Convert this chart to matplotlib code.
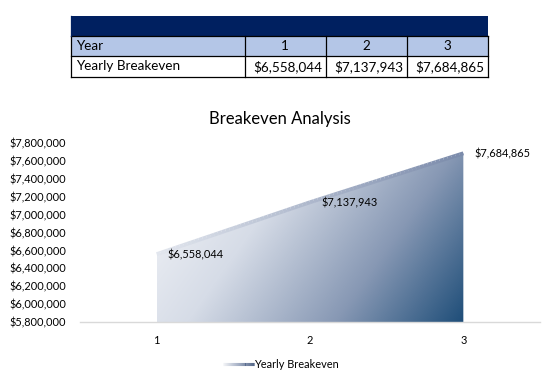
import numpy as np
import matplotlib
matplotlib.use("Agg")
import matplotlib.pyplot as plt
from matplotlib.patches import Rectangle, Polygon
from matplotlib.colors import LinearSegmentedColormap
from matplotlib.collections import LineCollection
from matplotlib.ticker import FuncFormatter
from matplotlib.lines import Line2D
from matplotlib.legend_handler import HandlerBase

plt.rcParams['font.family'] = ['Lato', 'DejaVu Sans']

# ---- data ----
years = [1, 2, 3]
breakeven = [6558044, 7137943, 7684865]
title = "Breakeven Analysis"
series_name = "Yearly Breakeven"
row_header = "Year"
y_min, y_max, y_step = 5800000, 7800000, 200000

W, H = 548, 380
fig = plt.figure(figsize=(W / 100, H / 100), dpi=100)

def fx(px):
    return px / W

def fy(py):
    return 1 - py / H

def money(v):
    return "${:,.0f}".format(v)

# ---- table drawn in figure pixel coords ----
tx0, tx1 = 70.5, 487.5
col_edges = [70.5, 245, 325.5, 406.5, 487.5]
band_top, band_bot = 16, 36
row1_bot, row2_bot = 56, 76.5
navy = '#002060'
light = '#b4c6e7'
fig.patches.append(Rectangle((fx(tx0), fy(band_bot)), fx(tx1) - fx(tx0), fy(band_top) - fy(band_bot),
                             transform=fig.transFigure, facecolor=navy, edgecolor='none'))
fig.patches.append(Rectangle((fx(tx0), fy(row1_bot)), fx(tx1) - fx(tx0), fy(band_bot) - fy(row1_bot),
                             transform=fig.transFigure, facecolor=light, edgecolor='none'))
lw = 0.9
for yy in [band_bot, row1_bot, row2_bot]:
    fig.add_artist(Line2D([fx(tx0), fx(tx1)], [fy(yy), fy(yy)], transform=fig.transFigure,
                          color='black', lw=lw))
for xx in col_edges:
    fig.add_artist(Line2D([fx(xx), fx(xx)], [fy(band_bot), fy(row2_bot)], transform=fig.transFigure,
                          color='black', lw=lw))
fig.add_artist(Line2D([fx(tx0), fx(tx0)], [fy(band_top), fy(band_bot)], transform=fig.transFigure,
                      color=navy, lw=lw))
tfs = 9.7
fig.text(fx(76), fy((band_bot + row1_bot) / 2), row_header, ha='left', va='center', fontsize=tfs, color='black')
fig.text(fx(76), fy((row1_bot + row2_bot) / 2), series_name, ha='left', va='center', fontsize=tfs, color='black')
for i, (yr, v) in enumerate(zip(years, breakeven)):
    cx = (col_edges[i + 1] + col_edges[i + 2]) / 2
    fig.text(fx(cx), fy((band_bot + row1_bot) / 2), str(yr), ha='center', va='center', fontsize=tfs)
    fig.text(fx(col_edges[i + 2] - 3), fy((row1_bot + row2_bot) / 2), money(v), ha='right', va='center', fontsize=tfs)

# ---- chart ----
ax_l, ax_r, ax_b, ax_t = 80, 540, 322, 143
ax = fig.add_axes([fx(ax_l), fy(ax_b), fx(ax_r) - fx(ax_l), fy(ax_t) - fy(ax_b)])
ax.set_xlim(0.5, 3.5)
ax.set_ylim(y_min, y_max)

x = np.array(years, dtype=float)
y = np.array(breakeven, dtype=float)

cmap = LinearSegmentedColormap.from_list('grad', [
    (0.0, '#f5f6f9'), (0.35, '#d6dce7'), (0.7, '#8798b4'), (1.0, '#1f4e79')])

nx, ny = 300, 300
GX, GY = np.meshgrid(np.linspace(0, 1, nx), np.linspace(0, 1, ny))
ytop = y.max()
T = 0.72 * GX + 0.28 * (1 - GY)
img = ax.imshow(T, cmap=cmap, origin='lower', aspect='auto',
                extent=[x.min(), x.max(), y_min, ytop], vmin=0, vmax=1, zorder=1)
poly_pts = [(x[0], y_min)] + list(zip(x, y)) + [(x[-1], y_min)]
poly = Polygon(poly_pts, closed=True, facecolor='none', edgecolor='none', transform=ax.transData)
ax.add_patch(poly)
img.set_clip_path(poly)

# gradient top line
seg_pts = []
for i in range(len(x) - 1):
    for s in np.linspace(0, 1, 40, endpoint=(i == len(x) - 2)):
        seg_pts.append((x[i] + s * (x[i + 1] - x[i]), y[i] + s * (y[i + 1] - y[i])))
seg_pts = np.array(seg_pts)
segs = np.stack([seg_pts[:-1], seg_pts[1:]], axis=1)
lcmap = LinearSegmentedColormap.from_list('lg', ['#e2e6ee', '#7b8bab'])
lc = LineCollection(segs, cmap=lcmap, linewidths=2.8, zorder=3, capstyle='butt')
lc.set_array(np.linspace(0, 1, len(segs)))
ax.add_collection(lc)

for xi, yi in zip(x, y):
    ax.annotate(money(yi), (xi, yi), xytext=(11, -1), textcoords='offset pixels',
                ha='left', va='center', fontsize=7.9, color='black', zorder=4)

ax.set_xticks(years)
ax.set_xticklabels([str(v) for v in years])
ax.set_yticks(np.arange(y_min, y_max + 1, y_step))
ax.yaxis.set_major_formatter(FuncFormatter(lambda v, p: money(v)))
ax.tick_params(axis='both', length=0, labelsize=7.9, colors='#000000')
ax.tick_params(axis='y', pad=10)
ax.tick_params(axis='x', pad=9)
for s in ['top', 'right', 'left']:
    ax.spines[s].set_visible(False)
ax.spines['bottom'].set_color('#d9d9d9')
ax.spines['bottom'].set_linewidth(1.0)
ax.set_facecolor('none')

fig.text(fx(280), fy(119), title, ha='center', va='center', fontsize=12, color='#000000')

# legend with gradient line handle
class GradientHandler(HandlerBase):
    def create_artists(self, legend, orig_handle, xdescent, ydescent, width, height, fontsize, trans):
        n = 30
        xs = np.linspace(-xdescent, width - xdescent, n + 1)
        yc = height / 2 - ydescent
        segs_l = [[(xs[k], yc), (xs[k + 1], yc)] for k in range(n)]
        lcl = LineCollection(segs_l, cmap=LinearSegmentedColormap.from_list('lgd', ['#eef0f4', '#8a98b4', '#1f3864']),
                             linewidths=2.2, transform=trans)
        lcl.set_array(np.linspace(0, 1, n))
        return [lcl]

handle = Line2D([], [], color='#3d557f', lw=2.2)
leg = fig.legend([handle], [series_name], loc='center', bbox_to_anchor=(fx(281), fy(364)),
                 frameon=False, fontsize=7.9, handlelength=2.8, handletextpad=0.05,
                 handler_map={Line2D: GradientHandler()})

fig.savefig('out.png', dpi=100)
